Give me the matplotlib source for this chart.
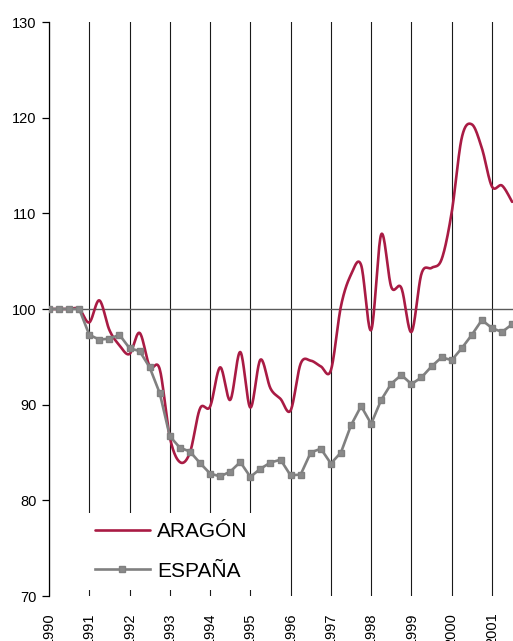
import numpy as np
import matplotlib
matplotlib.use("Agg")
import matplotlib.pyplot as plt

plt.rcParams['font.family'] = ['Liberation Sans', 'DejaVu Sans']

# ---- data (quarterly index, 1990Q1 = 100) ----
years = list(range(1990, 2002))
year_labels = [str(y) for y in years]
quarter_pos = [1990 + i / 4 for i in range(47)]  # 1990Q1 .. 2001Q3

aragon = [100, 100, 100, 100,
          98.6, 100.9, 97.8, 96.2,
          95.3, 97.5, 94.0, 93.7,
          86.6, 84.0, 85.0, 89.6,
          89.8, 93.9, 90.5, 95.5,
          89.7, 94.7, 91.7, 90.6,
          89.4, 94.3, 94.6, 94.0,
          93.6, 100.3, 103.6, 104.6,
          97.8, 107.8, 102.3, 102.2,
          97.6, 103.7, 104.3, 105.2,
          110.1, 117.9, 119.3, 116.8,
          112.8, 112.9, 111.2]

espana = [100, 100, 100, 100,
          97.3, 96.8, 96.9, 97.3,
          95.9, 95.6, 93.9, 91.2,
          86.7, 85.5, 85.1, 83.9,
          82.8, 82.5, 83.0, 84.0,
          82.45, 83.3, 83.95, 84.25,
          82.6, 82.7, 85.0, 85.4,
          83.85, 85.0, 87.85, 89.85,
          88.0, 90.5, 92.2, 93.1,
          92.15, 92.85, 94.0, 94.95,
          94.65, 95.9, 97.3, 98.85,
          98.0, 97.6, 98.4]

series_names = ["ARAGÓN", "ESPAÑA"]


def smooth(xs, ys, n=20):
    """Excel-like smoothed line (Catmull-Rom / cubic Bezier)."""
    xs = np.asarray(xs, float)
    ys = np.asarray(ys, float)
    px = np.concatenate([[xs[0]], xs, [xs[-1]]])
    py = np.concatenate([[ys[0]], ys, [ys[-1]]])
    outx, outy = [], []
    t = np.linspace(0, 1, n, endpoint=False)
    for i in range(1, len(px) - 2):
        p0 = np.array([px[i], py[i]])
        p3 = np.array([px[i + 1], py[i + 1]])
        c1 = p0 + (np.array([px[i + 1], py[i + 1]]) - np.array([px[i - 1], py[i - 1]])) / 6
        c2 = p3 - (np.array([px[i + 2], py[i + 2]]) - np.array([px[i], py[i]])) / 6
        b = ((1 - t) ** 3)[:, None] * p0 + (3 * (1 - t) ** 2 * t)[:, None] * c1 \
            + (3 * (1 - t) * t ** 2)[:, None] * c2 + (t ** 3)[:, None] * p3
        outx.extend(b[:, 0])
        outy.extend(b[:, 1])
    outx.append(xs[-1])
    outy.append(ys[-1])
    return np.array(outx), np.array(outy)


fig = plt.figure(figsize=(5.13, 6.41), dpi=100)
ax = fig.add_axes([49 / 513, 45 / 641, 464 / 513, 574 / 641])

red = '#A91B44'
gray = '#808080'

sx, sy = smooth(quarter_pos, aragon)
ax.plot(sx, sy, color=red, lw=1.9, label=series_names[0], zorder=3,
        solid_capstyle='round')
ax.plot(quarter_pos, espana, color=gray, lw=1.9, marker='s', markersize=4.2,
        markerfacecolor='#8a8a8a', markeredgecolor=gray, label=series_names[1], zorder=4)

ax.axhline(100, color='#5a5a5a', lw=1.0, zorder=2)

ax.set_xlim(1990, 1990 + 464 / 40.27)
ax.set_ylim(70, 130)
ax.set_yticks(range(70, 131, 10))
ax.set_xticks(years)
ax.set_xticklabels(year_labels, rotation=90, va='top', ha='center')
ax.grid(axis='x', color='#1a1a1a', lw=0.8, zorder=1)
ax.set_axisbelow(True)

for s in ['top', 'right', 'bottom']:
    ax.spines[s].set_visible(False)
ax.spines['left'].set_color('black')
ax.spines['left'].set_linewidth(0.9)

ax.tick_params(axis='y', direction='out', length=5, width=0.9, pad=4, labelsize=10.5)
ax.tick_params(axis='x', length=0, pad=12, labelsize=10.5)

leg = ax.legend(loc='lower left', bbox_to_anchor=(37 / 464, 6 / 574), fontsize=15,
                frameon=True, facecolor='white', edgecolor='none', framealpha=1,
                handlelength=2.6, handletextpad=0.35, labelspacing=0.98,
                borderpad=0.45, borderaxespad=0, fancybox=False)
leg.set_zorder(10)

fig.savefig('out.png', dpi=100)
